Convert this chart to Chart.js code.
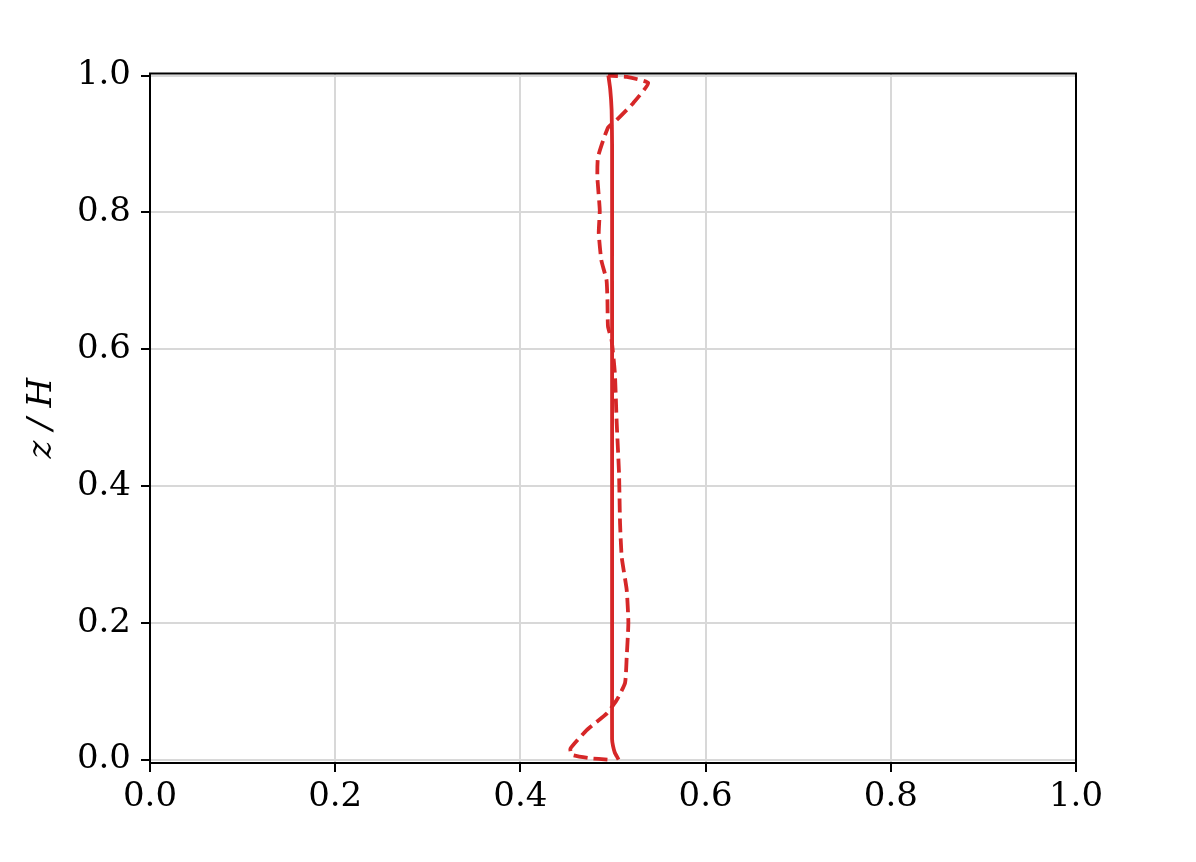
<!DOCTYPE html>
<html>
<head>
<meta charset="utf-8">
<script src="https://cdn.jsdelivr.net/npm/chart.js@4"></script>
<style>
  html, body { margin: 0; padding: 0; background: #fff; }
  #wrap { width: 1196px; height: 862px; }
</style>
</head>
<body>
<div id="wrap"><canvas id="profileChart" width="1196" height="862"></canvas></div>
<script>
// solid profile (mean)
const zSolid = [0.0, 0.005, 0.01, 0.02, 0.03, 0.1, 0.3, 0.5, 0.7, 0.9, 0.95, 0.98, 1.0];
const uSolid = [0.506, 0.504, 0.502, 0.500, 0.499, 0.499, 0.499, 0.499, 0.499, 0.499, 0.4985, 0.497, 0.495];

// dashed profile
const zDashed = [0.0, 0.002, 0.007, 0.016, 0.043, 0.068, 0.087, 0.112, 0.150, 0.200, 0.248, 0.296, 0.346,
                 0.419, 0.492, 0.565, 0.613, 0.633, 0.672, 0.701, 0.730, 0.770, 0.803, 0.852, 0.881,
                 0.924, 0.935, 0.960, 0.989, 0.998, 1.0];
const uDashed = [0.494, 0.475, 0.4555, 0.454, 0.4716, 0.4937, 0.504, 0.513, 0.5148, 0.5166, 0.5148, 0.5094, 0.5076,
                 0.5065, 0.504, 0.502, 0.4985, 0.4946, 0.494, 0.493, 0.4874, 0.4846, 0.4857, 0.4831, 0.4838,
                 0.4946, 0.504, 0.522, 0.538, 0.515, 0.4946];

const xTicks = [0.0, 0.2, 0.4, 0.6, 0.8, 1.0];
const yTicks = [0.0, 0.2, 0.4, 0.6, 0.8, 1.0];

const red = '#d62728';
const serif = "'DejaVu Serif', 'Liberation Serif', serif";

const frame = {
    id: 'frame',
    afterDatasetsDraw(chart) {
        const a = chart.chartArea;
        const c = chart.ctx;
        c.save();
        c.strokeStyle = '#000';
        c.lineWidth = 2;
        c.strokeRect(a.left, a.top, a.right - a.left, a.bottom - a.top);
        c.restore();
    }
};

const ctx = document.getElementById('profileChart').getContext('2d');
new Chart(ctx, {
    type: 'scatter',
    data: {
        datasets: [
            {
                label: 'solid',
                data: zSolid.map((z, i) => ({ x: uSolid[i], y: z })),
                showLine: true,
                borderColor: red,
                borderWidth: 3.8,
                pointRadius: 0,
                tension: 0.15
            },
            {
                label: 'dashed',
                data: zDashed.map((z, i) => ({ x: uDashed[i], y: z })),
                showLine: true,
                borderColor: red,
                borderWidth: 3.8,
                borderDash: [14, 6],
                pointRadius: 0,
                tension: 0.15
            }
        ]
    },
    options: {
        responsive: false,
        animation: false,
        layout: { padding: { left: 0, top: 73.5, right: 120, bottom: 0 } },
        plugins: {
            legend: { display: false },
            tooltip: { enabled: false }
        },
        scales: {
            x: {
                type: 'linear',
                min: 0,
                max: 1,
                afterBuildTicks: axis => { axis.ticks = xTicks.map(v => ({ value: v })); },
                afterFit: axis => { axis.height = 99; },
                grid: { color: '#d8d8d8', lineWidth: 2, tickColor: '#000', tickLength: 9, tickWidth: 2 },
                border: { display: false },
                ticks: {
                    color: '#000',
                    padding: 5,
                    maxRotation: 0,
                    font: { family: serif, size: 34 },
                    callback: v => v.toFixed(1)
                }
            },
            y: {
                type: 'linear',
                min: -0.005,
                max: 1.003,
                afterBuildTicks: axis => { axis.ticks = yTicks.map(v => ({ value: v })); },
                afterFit: axis => { axis.width = 150; },
                grid: { color: '#d8d8d8', lineWidth: 2, tickColor: '#000', tickLength: 9, tickWidth: 2 },
                border: { display: false },
                title: {
                    display: true,
                    text: 'z / H',
                    color: '#000',
                    font: { family: serif, size: 34, style: 'italic' },
                    padding: { top: 22, bottom: 0 }
                },
                ticks: {
                    color: '#000',
                    padding: 10,
                    font: { family: serif, size: 34 },
                    callback: v => v.toFixed(1)
                }
            }
        }
    },
    plugins: [frame]
});
</script>
</body>
</html>
